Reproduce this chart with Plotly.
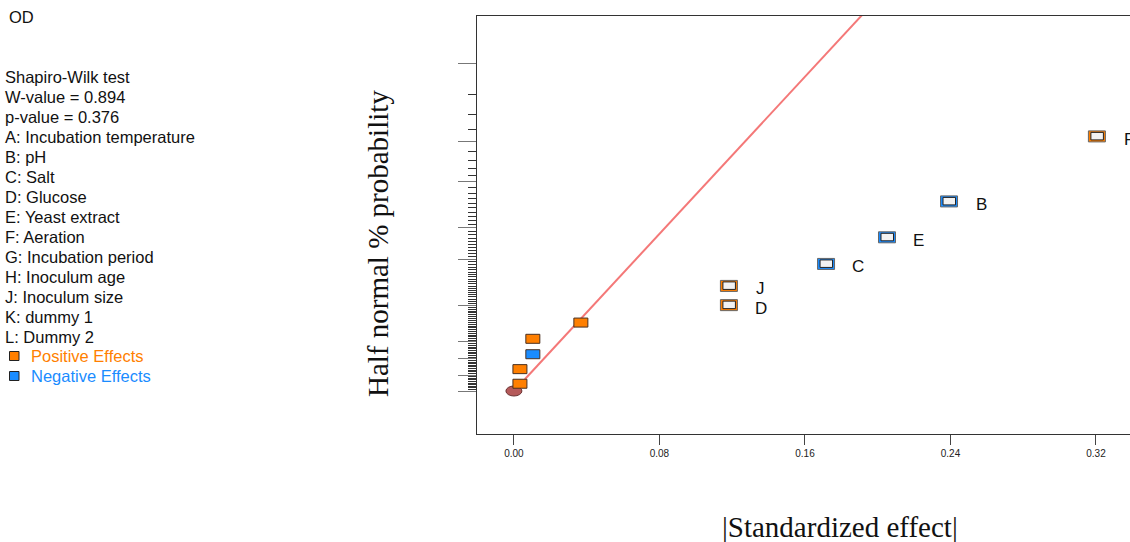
import plotly.graph_objects as go
from statistics import NormalDist

# ---------------- data ----------------
effect_labels = ["", "", "", "", "", "D", "J", "C", "E", "B", "F"]
abs_effect = [0.0033, 0.0033, 0.0104, 0.0104, 0.0368, 0.1182, 0.1182, 0.1716, 0.2051, 0.2392, 0.3205]
effect_sign = ["+", "+", "-", "+", "+", "+", "+", "-", "-", "-", "+"]
half_normal_pct = [4.55, 13.64, 22.73, 31.82, 40.91, 50.0, 59.09, 68.18, 77.27, 86.36, 95.45]
selected = [False, False, False, False, False, True, True, True, True, True, True]

fit_slope = 15.43          # z per unit |effect| (line through origin)
fit_x = [0.006, 0.21]

x_ticks = [0.00, 0.08, 0.16, 0.24, 0.32]
major_pct = [0, 10, 20, 30, 50, 70, 80, 90, 95, 99]
minor_pct = [p for p in range(1, 99) if p not in major_pct]

side_text = [
    "Shapiro-Wilk test", "W-value = 0.894", "p-value = 0.376",
    "A: Incubation temperature", "B: pH", "C: Salt", "D: Glucose",
    "E: Yeast extract", "F: Aeration", "G: Incubation period",
    "H: Inoculum age", "J: Inoculum size", "K: dummy 1", "L: Dummy 2",
]
legend_items = [("Positive Effects", "#FF7F00"), ("Negative Effects", "#1A8CFF")]

# ---------------- helpers ----------------
nd = NormalDist()


def hn(p):
    return nd.inv_cdf(0.5 + p / 200.0)


W, H = 1130, 542
ML, MT, MB, MR = 477, 16, 108, 0
PW, PH = W - ML - MR, H - MT - MB


def xp(px):
    return (px - ML) / PW


def yp(py):
    return (H - MB - py) / PH


ORANGE = "#FF7F00"
BLUE = "#1A8CFF"
SIDE_FONT = dict(family="Liberation Sans, Arial", size=16.5, color="#111111")

fig = go.Figure()

# fitted line
fig.add_trace(go.Scatter(
    x=fit_x, y=[fit_slope * v for v in fit_x], mode="lines",
    line=dict(color="#F47878", width=2), hoverinfo="skip", showlegend=False))

# invisible points (for hover / data presence)
ys = [hn(p) for p in half_normal_pct]
fig.add_trace(go.Scatter(x=abs_effect, y=ys, mode="markers",
                         marker=dict(size=1, opacity=0), showlegend=False))

shapes = []
annotations = []

# origin ellipse
shapes.append(dict(type="circle", xref="x", yref="y", xsizemode="pixel", ysizemode="pixel",
                   xanchor=0, yanchor=hn(0), x0=-8, x1=8, y0=-5, y1=5,
                   fillcolor="#B55A5A", line=dict(color="#6A3030", width=1)))

for xv, yv, s, sel, lab in zip(abs_effect, ys, effect_sign, selected, effect_labels):
    col = ORANGE if s == "+" else BLUE
    if not sel:
        shapes.append(dict(type="rect", xref="x", yref="y", xsizemode="pixel", ysizemode="pixel",
                           xanchor=xv, yanchor=yv, x0=-7, x1=7, y0=-4.5, y1=4.5,
                           fillcolor=col, line=dict(color="#4A3020", width=1)))
    else:
        shapes.append(dict(type="rect", xref="x", yref="y", xsizemode="pixel", ysizemode="pixel",
                           xanchor=xv, yanchor=yv, x0=-8.5, x1=8.5, y0=-5.5, y1=5.5,
                           fillcolor=col, line=dict(color="#666666", width=1)))
        shapes.append(dict(type="rect", xref="x", yref="y", xsizemode="pixel", ysizemode="pixel",
                           xanchor=xv, yanchor=yv, x0=-6, x1=6.5, y0=-3.5, y1=4,
                           fillcolor="#F2F2F2", line=dict(color="#222222", width=1)))
    if lab:
        annotations.append(dict(x=xv, y=yv, xref="x", yref="y", text=lab, showarrow=False,
                                xshift=32, yshift=-3,
                                font=dict(family="Liberation Sans, Arial", size=17, color="#111111")))

# left side text
annotations.append(dict(x=xp(7), y=yp(17), xref="paper", yref="paper", text="OD",
                        xanchor="left", yanchor="middle", showarrow=False, font=SIDE_FONT))
for i, t in enumerate(side_text):
    annotations.append(dict(x=xp(3), y=yp(77 + 20 * i), xref="paper", yref="paper", text=t,
                            xanchor="left", yanchor="middle", showarrow=False, font=SIDE_FONT))
for i, (t, c) in enumerate(legend_items):
    cy = 356 + 20 * i
    shapes.append(dict(type="rect", xref="paper", yref="paper",
                       x0=xp(9.5), x1=xp(19), y0=yp(cy + 4.5), y1=yp(cy - 4.5),
                       fillcolor=c, line=dict(color="#222222", width=1)))
    annotations.append(dict(x=xp(29), y=yp(cy), xref="paper", yref="paper", text=t,
                            xanchor="left", yanchor="middle", showarrow=False,
                            font=dict(family="Liberation Sans, Arial", size=16.5, color=c)))

# axis titles
annotations.append(dict(x=xp(378), y=yp(244), xref="paper", yref="paper",
                        text="Half normal % probability", textangle=-90, showarrow=False,
                        xanchor="center", yanchor="middle",
                        font=dict(family="Liberation Serif, Times New Roman", size=29, color="#111111")))
annotations.append(dict(x=xp(840), y=yp(527), xref="paper", yref="paper",
                        text="|Standardized effect|", showarrow=False,
                        xanchor="center", yanchor="middle",
                        font=dict(family="Liberation Serif, Times New Roman", size=29, color="#111111")))

fig.update_layout(
    width=W, height=H,
    margin=dict(l=ML, r=MR, t=MT, b=MB, pad=0),
    paper_bgcolor="white", plot_bgcolor="white",
    showlegend=False,
    shapes=shapes, annotations=annotations,
    xaxis=dict(range=[-0.0203, 0.3387], tickvals=x_ticks, tickformat=".2f",
               ticks="outside", ticklen=10, tickcolor="#444444", tickwidth=1,
               showline=True, linecolor="#333333", linewidth=1, mirror=True,
               showgrid=False, zeroline=False,
               tickfont=dict(family="Liberation Sans Narrow, Arial Narrow, Liberation Sans", size=10,
                             color="#222222")),
    yaxis=dict(range=[(391 - 434) / 127.3, (391 - 16) / 127.3],
               tickmode="array", tickvals=[hn(p) for p in major_pct],
               ticks="outside", ticklen=18, tickcolor="#777777", tickwidth=1,
               showticklabels=False,
               minor=dict(tickmode="array", tickvals=[hn(p) for p in minor_pct],
                          ticks="outside", ticklen=8, tickcolor="#333333", tickwidth=1,
                          showgrid=False),
               showline=True, linecolor="#333333", linewidth=1, mirror=False,
               showgrid=False, zeroline=False),
)

fig.write_html("out.html")
